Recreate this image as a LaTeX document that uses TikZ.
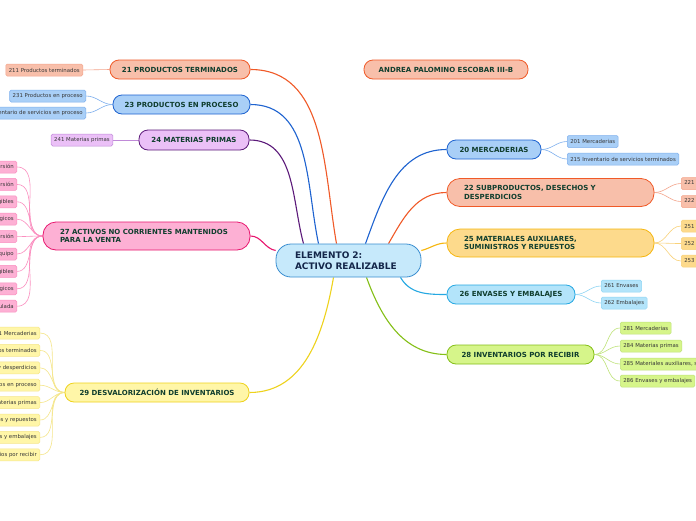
\documentclass[tikz,border=0pt]{standalone}
\usepackage{fontspec}
\setmainfont{DejaVu Sans}
\usetikzlibrary{backgrounds}

\definecolor{txtgreen}{HTML}{103E2E}
\definecolor{txtnavy}{HTML}{14264A}
\definecolor{cenfill}{HTML}{C6E9FB}
\definecolor{cenline}{HTML}{3A8ED0}
\definecolor{salfill}{HTML}{F8BFAA}
\definecolor{salline}{HTML}{F05A28}
\definecolor{salleaf}{HTML}{F4A58C}
\definecolor{blufill}{HTML}{A9CFF7}
\definecolor{bluline}{HTML}{1E63D0}
\definecolor{bluleaf}{HTML}{7FB0EE}
\definecolor{purfill}{HTML}{EBC0F7}
\definecolor{purline}{HTML}{5C1A7A}
\definecolor{purleaf}{HTML}{C08AD8}
\definecolor{pnkfill}{HTML}{FDB0D4}
\definecolor{pnkline}{HTML}{E8166E}
\definecolor{pnkleaf}{HTML}{FB8FC0}
\definecolor{yelfill}{HTML}{FFF6A8}
\definecolor{yelline}{HTML}{EED21C}
\definecolor{yelleaf}{HTML}{F5E68A}
\definecolor{golfill}{HTML}{FDDA8C}
\definecolor{golline}{HTML}{F6B60E}
\definecolor{golleaf}{HTML}{F9D27A}
\definecolor{cyafill}{HTML}{B3E4FA}
\definecolor{cyaline}{HTML}{25A8E2}
\definecolor{cyaleaf}{HTML}{8ED5F4}
\definecolor{grnfill}{HTML}{D6F58A}
\definecolor{grnline}{HTML}{84BF17}
\definecolor{grnleaf}{HTML}{BFE37A}

\begin{document}
\begin{tikzpicture}[
  x=1pt, y=-1pt,
  font=\fontsize{5.4}{6.4}\selectfont,
  main/.style={draw, line width=0.8pt, rounded corners=9pt, inner sep=0pt,
               font=\fontsize{7}{8.4}\selectfont\bfseries, text=txtgreen,
               minimum height=19pt, align=center},
  twoln/.style={main, minimum height=28pt, rounded corners=13pt, align=left,
                inner xsep=17pt, text width=173pt},
  leaf/.style={draw, line width=0.5pt, rounded corners=1.5pt, text=black!78,
               minimum height=12pt, inner xsep=3pt, inner ysep=0pt},
  br/.style={line width=1.1pt},
  tw/.style={line width=0.6pt}
]
\clip (0,0) rectangle (696,520);
% ---------------- centre and author
\node[main, fill=cenfill, draw=cenline, text=txtnavy, font=\fontsize{9}{10.6}\selectfont\bfseries,
      align=left, text width=107pt, inner xsep=19pt, minimum height=33pt, rounded corners=15pt]
      (c) at (348.5,260.5) {ELEMENTO 2:\\ ACTIVO REALIZABLE};
\node[main, fill=salfill, draw=salline, minimum width=164pt] (au) at (446,69.5) {ANDREA PALOMINO ESCOBAR III-B};
% ---------------- right branches
\node[main, fill=blufill, draw=bluline, minimum width=94pt] (m20) at (494,149.5) {20 MERCADERIAS};
\node[twoln, fill=salfill, draw=salline] (m22) at (550.5,192.5) {22 SUBPRODUCTOS, DESECHOS Y\\ DESPERDICIOS};
\node[twoln, fill=golfill, draw=golline] (m25) at (550.5,243) {25 MATERIALES AUXILIARES,\\ SUMINISTROS Y REPUESTOS};
\node[main, fill=cyafill, draw=cyaline, minimum width=128pt] (m26) at (511,294.5) {26 ENVASES Y EMBALAJES};
\node[main, fill=grnfill, draw=grnline, minimum width=147pt] (m28) at (520.5,354.5) {28 INVENTARIOS POR RECIBIR};
% ---------------- left branches
\node[main, fill=salfill, draw=salline, minimum width=140pt] (m21) at (180,69.5) {21 PRODUCTOS TERMINADOS};
\node[main, fill=blufill, draw=bluline, minimum width=137pt] (m23) at (181.5,104.5) {23 PRODUCTOS EN PROCESO};
\node[main, fill=purfill, draw=purline, minimum width=110pt, minimum height=20pt] (m24) at (194,140) {24 MATERIAS PRIMAS};
\node[twoln, fill=pnkfill, draw=pnkline] (m27) at (146.5,236) {27 ACTIVOS NO CORRIENTES MANTENIDOS\\ PARA LA VENTA};
\node[main, fill=yelfill, draw=yelline, minimum width=184pt] (m29) at (157,392.5) {29 DESVALORIZACI\'ON DE INVENTARIOS};
% ---------------- leaves, right
\node[leaf, fill=blufill, draw=bluleaf, anchor=west] (s201) at (567,141.5) {201 Mercaderias};
\node[leaf, fill=blufill, draw=bluleaf, anchor=west] (s215) at (567,159) {215 Inventario de servicios terminados};
\node[leaf, fill=salfill, draw=salleaf, anchor=west] (s221) at (681,183.5) {221 Subproductos};
\node[leaf, fill=salfill, draw=salleaf, anchor=west] (s222) at (681,201.5) {222 Desechos y desperdicios};
\node[leaf, fill=golfill, draw=golleaf, anchor=west] (s251) at (681,226) {251 Materiales auxiliares};
\node[leaf, fill=golfill, draw=golleaf, anchor=west] (s252) at (681,243.5) {252 Suministros};
\node[leaf, fill=golfill, draw=golleaf, anchor=west] (s253) at (681,261) {253 Repuestos};
\node[leaf, fill=cyafill, draw=cyaleaf, anchor=west] (s261) at (601,286) {261 Envases};
\node[leaf, fill=cyafill, draw=cyaleaf, anchor=west] (s262) at (601,303) {262 Embalajes};
\node[leaf, fill=grnfill, draw=grnleaf, anchor=west] (s281) at (620,328) {281 Mercaderias};
\node[leaf, fill=grnfill, draw=grnleaf, anchor=west] (s284) at (620,346) {284 Materias primas};
\node[leaf, fill=grnfill, draw=grnleaf, anchor=west] (s285) at (620,364) {285 Materiales auxiliares, suministros y repuestos};
\node[leaf, fill=grnfill, draw=grnleaf, anchor=west] (s286) at (620,381) {286 Envases y embalajes};
% ---------------- leaves, left
\node[leaf, fill=salfill, draw=salleaf, anchor=east] (s211) at (83,70) {211 Productos terminados};
\node[leaf, fill=blufill, draw=bluleaf, anchor=east] (s231) at (86,96) {231 Productos en proceso};
\node[leaf, fill=blufill, draw=bluleaf, anchor=east] (s235) at (86,113) {235 Inventario de servicios en proceso};
\node[leaf, fill=purfill, draw=purleaf, anchor=east] (s241) at (113,140) {241 Materias primas};
\foreach \t [count=\i] in {271 Propiedades de inversi\'on, 272 Edificaciones de inversi\'on, 273 Intangibles,
    274 Activos biol\'ogicos, 275 Depreciaci\'on de propiedades de inversi\'on, {276 Propiedades, planta y equipo},
    277 Amortizaci\'on de intangibles, 278 Agotamiento de activos biol\'ogicos, 279 Desvalorizaci\'on acumulada}
  \node[leaf, fill=pnkfill, draw=pnkleaf, anchor=east] (p\i) at (17,{167+17.4*(\i-1)}) {\t};
\foreach \t [count=\i] in {291 Mercaderias, 292 Productos terminados, {293 Subproductos, desechos y desperdicios},
    294 Productos en proceso, 295 Materias primas, {296 Materiales auxiliares, suministros y repuestos},
    297 Envases y embalajes, 298 Inventarios por recibir}
  \node[leaf, fill=yelfill, draw=yelleaf, anchor=east] (y\i) at (40,{333+17.4*(\i-1)}) {\t};
% ---------------- connectors
\begin{scope}[on background layer]
\fill[white] (0,0) rectangle (696,520);
\draw[br, salline] ([xshift=-12pt]c.north) to[out=100,in=0] (m21.east);
\draw[br, bluline] ([xshift=-30pt]c.north) to[out=102,in=0] (m23.east);
\draw[br, purline] ([xshift=-45pt]c.north) to[out=105,in=0] (m24.east);
\draw[br, pnkline] ([yshift=10pt]c.west) to[out=170,in=0] (m27.east);
\draw[br, yelline] ([xshift=-15pt]c.south) to[out=-100,in=0] (m29.east);
\draw[br, bluline] ([xshift=17pt]c.north) to[out=70,in=180] (m20.west);
\draw[br, salline] ([xshift=40pt]c.north) to[out=60,in=180] (m22.west);
\draw[br, golline] ([yshift=10pt]c.east) to[out=15,in=180] (m25.west);
\draw[br, cyaline] ([xshift=52pt]c.south) to[out=-60,in=180] (m26.west);
\draw[br, grnline] ([xshift=18pt]c.south) to[out=-70,in=180] (m28.west);
\foreach \s in {201,215} \draw[tw, bluleaf] (m20.east) to[out=0,in=180] (s\s.west);
\foreach \s in {221,222} \draw[tw, salleaf] (m22.east) to[out=0,in=180] (s\s.west);
\foreach \s in {251,252,253} \draw[tw, golleaf] (m25.east) to[out=0,in=180] (s\s.west);
\foreach \s in {261,262} \draw[tw, cyaleaf] (m26.east) to[out=0,in=180] (s\s.west);
\foreach \s in {281,284,285,286} \draw[tw, grnleaf] (m28.east) to[out=0,in=180] (s\s.west);
\draw[tw, salleaf] (m21.west) -- (s211.east);
\foreach \s in {231,235} \draw[tw, bluleaf] (m23.west) to[out=180,in=0] (s\s.east);
\draw[tw, purleaf] (m24.west) -- (s241.east);
\foreach \i in {1,...,9} \draw[tw, pnkleaf] (m27.west) to[out=180,in=0] (p\i.east);
\foreach \i in {1,...,8} \draw[tw, yelleaf] (m29.west) to[out=180,in=0] (y\i.east);
\end{scope}
\end{tikzpicture}
\end{document}
